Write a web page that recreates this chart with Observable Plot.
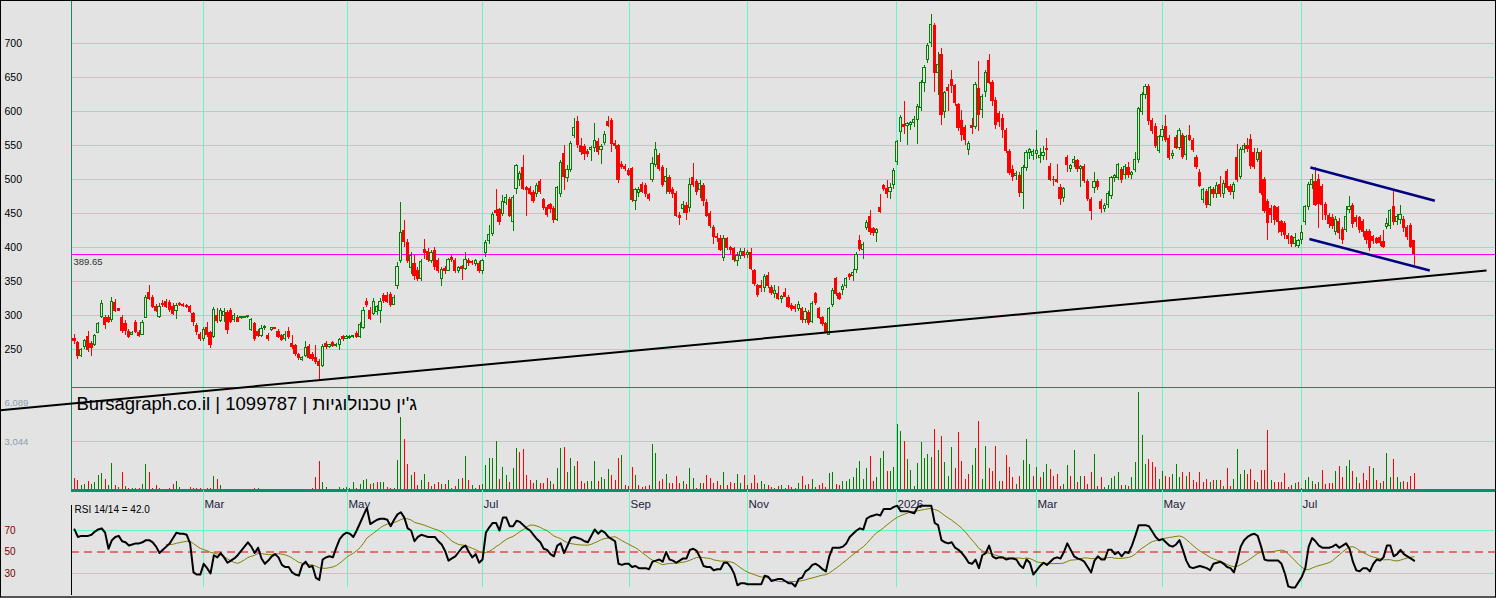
<!DOCTYPE html>
<html><head><meta charset="utf-8">
<script src="https://cdn.jsdelivr.net/npm/d3@7"></script>
<script src="https://cdn.jsdelivr.net/npm/@observablehq/plot@0.6"></script>
<style>
html,body{margin:0;padding:0;background:#e3e3e3;}
#chart{position:relative;width:1496px;height:598px;background:#e3e3e3;overflow:hidden;}
#chart svg{position:absolute;left:0;}
#frame{position:absolute;left:0;top:0;width:1496px;height:598px;box-sizing:border-box;border:1px solid #000;border-bottom:2px solid #555;pointer-events:none;z-index:10;}
</style></head><body><div id="chart"><div id="frame"></div></div>
<script>
const title = "Bursagraph.co.il | 1099787 | ג'ין טכנולוגיות";
const lastPrice = 389.65;
const priceTicks = [250,300,350,400,450,500,550,600,650,700];
const volTicks = [3044, 6089];
const rsiLevels = [70, 50, 30];
const monthLabels = ["Mar","May","Jul","Sep","Nov","2026","Mar","May","Jul"];
const monthPos = [37.9412, 80.2942, 120, 163.2353, 197.9412, 241.7648, 282.9412, 320, 360.8824];

const open = [266,260,241,253,268,258,256,275,298,296,297,294,318,309,296,287,276,272,289,274,272,297,333,326,312,298,317,320,318,313,306,317,316,314,312,302,285,272,
266,282,274,268,300,292,300,303,306,293,297,296,297,298,278,288,276,270,281,270,278,281,276,270,265,276,258,255,242,235,240,254,242,238,232,226,258,254,260,255,256,268,266,
267,268,273,268,282,320,306,302,305,306,328,328,330,316,343,380,424,406,370,376,366,354,396,394,380,395,380,353,368,366,384,380,366,371,369,380,378,376,376,365,
392,410,420,454,455,450,466,470,438,486,500,517,488,486,480,478,496,470,458,462,456,441,478,538,502,514,564,585,549,548,540,544,546,555,544,554,584,586,552,549,522,518,512,
516,468,480,492,490,477,500,522,534,517,497,502,484,479,447,456,461,458,502,496,485,490,466,450,429,416,413,384,412,400,398,380,388,394,
389,392,365,343,344,340,358,340,332,332,324,333,326,314,312,309,309,294,304,290,331,310,296,287,272,316,353,331,338,344,360,358,367,410,397,429,445,427,422,458,490,486,481,492,
526,570,580,578,580,583,588,605,642,675,700,726,657,683,599,634,647,637,609,586,576,543,578,577,633,602,629,674,642,615,596,589,571,541,514,505,505,480,517,539,534,538,
532,535,545,519,500,500,488,473,532,516,524,527,516,519,497,470,487,497,467,456,462,476,502,502,514,507,517,506,514,529,599,624,636,586,577,542,562,
577,560,535,561,547,564,536,564,557,532,510,470,481,463,485,478,492,479,511,489,482,532,504,544,549,558,539,529,539,500,467,456,459,458,437,435,417,415,405,402,411,
438,459,492,496,499,489,463,446,444,423,438,426,426,455,461,444,443,438,423,423,416,412,414,408,430,431,459,438,440,441,429,432,409];
const high = [272,262,252,265,276,262,272,290,322,300,300,326,324,311,300,292,279,276,292,278,292,330,344,330,316,318,322,324,322,318,318,319,318,316,314,304,288,275,
282,290,277,312,310,310,310,308,310,303,300,299,299,300,296,290,280,285,285,274,283,283,280,272,276,282,270,258,244,240,262,258,246,256,235,258,262,258,262,259,266,270,270,
270,271,276,290,312,325,312,325,315,325,332,334,334,330,378,466,440,412,392,388,370,382,412,398,396,400,384,370,372,384,388,384,372,373,392,384,381,382,380,383,
410,433,452,485,458,476,478,474,476,522,512,535,490,490,484,494,500,472,462,465,460,490,528,550,520,556,590,592,560,552,544,548,582,560,552,570,593,590,558,552,526,522,516,
518,487,488,496,494,480,532,555,538,520,516,506,488,483,452,468,466,502,523,500,498,494,470,453,432,420,418,418,414,402,400,392,398,398,
396,398,368,346,352,360,363,344,344,342,330,340,330,318,316,320,312,310,308,320,334,312,298,290,312,340,356,334,346,356,362,368,392,418,408,440,455,430,428,478,493,498,494,516,
558,594,615,584,586,592,610,645,668,700,743,729,687,692,630,640,661,640,612,602,580,556,590,642,673,625,660,684,645,620,600,595,575,544,520,512,510,520,542,546,544,572,
545,548,560,524,505,522,492,488,536,522,534,530,520,522,500,473,510,500,470,464,482,505,508,524,518,522,525,512,540,606,628,640,640,590,582,565,580,
594,564,542,565,575,568,565,580,560,536,514,487,485,490,488,496,505,498,515,492,496,551,547,553,560,566,545,545,543,503,470,462,462,460,440,438,420,418,420,412,432,
462,496,508,517,508,493,466,450,448,446,442,430,460,475,464,447,446,441,426,426,418,415,418,425,442,456,485,448,462,445,432,436,411];
const low = [258,236,238,250,245,240,255,273,296,280,288,290,304,306,273,270,266,270,274,268,270,295,322,310,305,295,312,311,305,300,294,313,312,310,303,284,270,262,
262,268,252,266,288,290,290,272,288,290,289,294,295,296,276,262,268,268,278,262,276,279,266,262,262,265,250,240,234,232,238,235,232,228,206,224,250,252,253,253,248,262,264,
265,266,266,266,280,312,292,300,300,288,318,318,312,314,338,376,400,376,360,352,350,350,382,378,376,366,362,342,360,364,378,362,362,351,366,372,374,372,362,360,
385,405,416,446,432,446,462,444,424,478,490,484,445,476,464,474,478,454,444,450,436,438,474,484,496,510,560,546,536,528,532,526,540,536,522,550,576,540,544,494,515,512,504,
466,454,474,480,474,468,496,518,512,488,478,478,472,444,432,450,440,452,488,476,472,460,444,428,404,408,394,380,396,390,378,372,382,384,
384,366,342,326,334,334,340,330,325,322,318,326,310,306,304,306,288,288,285,288,314,294,284,274,270,312,328,322,330,340,352,350,362,394,382,425,418,416,408,450,483,472,470,486,
520,554,566,550,572,576,551,600,628,670,694,628,624,580,590,600,626,608,570,556,550,536,566,574,570,590,620,640,608,573,576,560,538,506,497,498,474,456,512,530,528,530,
524,528,528,497,490,494,462,466,510,510,518,510,488,494,468,440,480,484,450,452,458,470,496,498,494,500,502,500,510,524,594,618,580,566,546,538,556,
554,528,530,544,542,530,528,556,540,514,488,464,458,460,472,472,474,472,484,476,470,496,500,538,540,515,515,525,476,450,410,436,432,420,416,412,404,400,400,398,404,
432,454,486,460,428,440,440,428,426,418,412,404,422,450,428,430,420,414,405,394,405,404,402,398,426,426,432,432,434,422,410,398,374];
const close = [263,240,250,262,249,252,270,288,317,286,290,320,306,307,277,277,268,275,276,270,289,326,324,312,307,313,315,313,308,302,314,315,314,312,305,290,276,265,
279,272,256,308,292,307,305,278,291,300,291,298,298,299,294,266,270,280,283,266,281,280,269,264,272,268,254,243,237,238,252,238,236,231,226,254,254,257,255,257,264,266,268,
269,270,268,286,306,315,295,320,312,320,321,320,316,326,372,422,408,380,388,358,354,378,392,382,392,372,366,367,365,381,381,365,370,369,381,377,377,380,365,380,
406,418,448,451,437,467,473,447,473,520,508,486,484,479,469,491,481,458,448,456,440,488,524,504,514,552,576,550,540,537,538,546,557,540,548,566,578,552,549,500,519,515,507,
470,485,484,482,478,472,523,544,516,492,504,482,478,447,444,462,451,492,492,482,494,469,447,432,416,414,397,412,400,397,382,387,393,388,
392,368,346,330,340,357,343,333,336,324,327,327,313,309,309,316,294,305,289,317,318,297,287,276,310,336,331,325,342,353,357,362,389,398,404,436,423,421,426,452,486,478,488,513,
555,590,577,581,583,588,607,642,664,697,727,657,668,595,627,630,637,612,576,565,558,552,576,639,595,621,656,642,615,580,585,573,542,510,503,508,480,517,539,543,540,542,
535,539,543,500,499,496,472,486,521,520,528,516,519,498,472,454,496,489,456,461,479,502,505,521,500,519,507,509,529,603,624,636,586,571,549,562,573,
558,532,538,547,571,533,562,558,544,519,491,484,462,487,479,491,479,494,488,482,492,500,544,549,545,520,519,539,480,454,436,448,440,437,423,419,413,405,414,410,422,
459,492,500,463,464,463,448,434,432,441,422,411,445,460,434,438,426,423,411,400,410,407,407,401,434,453,437,445,448,429,416,401,390];
const volume = [770,630,310,380,570,380,500,940,1070,690,310,1700,330,190,1130,250,130,130,130,130,
380,1630,1130,130,310,130,60,60,130,380,570,190,60,60,190,130,100,100,60,130,
130,880,690,310,60,60,80,60,50,60,30,20,30,130,130,40,60,30,20,20,
20,60,30,20,30,80,20,20,20,60,130,820,1820,500,190,30,20,40,190,130,
190,130,500,100,380,630,690,380,440,480,500,500,160,130,130,1880,4520,3140,1630,940,
1130,310,630,1000,500,250,380,500,380,380,650,130,250,670,770,2130,620,310,130,310,
360,1570,1960,1960,3044,690,1440,940,500,1380,2640,2380,2570,940,630,440,630,440,460,770,
560,400,1380,2640,2700,1090,2010,1510,1820,560,460,560,560,1820,560,820,690,1320,940,600,
1960,2200,300,250,1440,940,300,190,250,300,2830,2330,560,670,1000,460,460,880,460,560,
400,1380,730,150,420,420,940,770,460,560,310,1130,310,500,460,1000,420,940,300,460,
940,420,560,360,300,190,150,220,300,150,310,190,150,460,850,300,400,670,190,300,
420,190,1070,1090,360,310,560,560,690,820,1340,1820,690,1380,2140,560,820,2010,2430,1200,
1200,1430,4100,3680,3060,1920,1230,250,1660,2970,2000,2240,2050,3800,2510,3330,1710,840,2660,1340,
3600,1780,670,980,1530,2620,4310,670,2760,1340,1200,2720,590,590,2160,1460,800,360,900,1840,
3190,1630,900,1420,800,1090,1630,1300,840,980,250,360,1570,840,2460,520,840,880,360,1090,
2260,270,780,200,290,760,890,1100,340,320,270,835,1720,6089,3440,1645,1900,1750,1435,655,
1200,885,815,1025,1645,790,1100,890,1100,620,480,1100,480,690,520,620,620,620,270,1370,
270,690,2560,1000,1240,970,1310,620,520,1240,1240,3700,640,520,520,480,1040,160,330,410,
480,140,620,830,580,370,480,1240,370,410,410,1170,1520,830,1520,1870,1170,830,410,1040,
620,1520,1370,620,410,580,2320,790,1930,790,500,580,480,890,1040];
const rsi = [71,64,65,65,65,66,69,71,72,68,53,61,64,65,60,59,56,57,58,58,
59,61,61,59,55,49,52,55,58,63,68,67,67,66,58,31,29,29,39,35,
30,47,45,49,45,40,42,44,47,51,55,59,55,49,54,44,39,42,46,48,
45,38,36,36,31,29,28,38,41,36,37,26,24,43,45,46,45,54,62,66,
68,67,64,70,77,84,91,76,78,80,81,81,80,74,80,85,87,82,72,70,
60,64,66,65,64,64,64,60,57,51,42,44,46,50,54,56,50,45,48,40,
43,68,73,77,77,70,82,82,74,74,79,78,75,72,70,66,62,59,53,52,
48,46,56,58,49,56,63,64,63,62,60,59,65,71,67,70,68,64,62,60,
39,38,39,39,36,37,35,35,35,34,41,42,43,41,50,43,42,40,42,44,
44,52,53,51,45,37,36,36,33,34,34,40,40,36,30,19,21,21,20,20,
20,20,20,28,27,23,24,25,25,23,21,21,18,25,26,32,34,38,39,37,
34,32,46,54,54,54,55,58,64,67,70,72,71,81,83,84,85,84,90,90,
90,92,93,88,88,88,87,86,92,93,93,93,93,77,75,61,59,58,59,54,
52,49,45,40,39,43,35,47,49,56,46,44,45,45,43,44,44,43,38,35,
43,40,29,33,37,40,38,41,44,45,44,50,58,52,46,44,43,41,36,31,
42,46,43,43,52,52,48,50,46,50,49,56,65,75,75,75,74,69,64,61,
62,59,56,55,57,61,52,42,36,35,36,37,36,35,33,39,40,41,39,36,
35,31,42,55,61,64,66,67,65,55,43,42,42,42,42,39,30,18,17,17,
22,27,35,55,63,60,56,54,54,54,55,57,54,56,58,53,41,33,32,35,
35,32,39,43,42,45,56,56,46,48,52,48,46,44,42];
// user-drawn lines, in (candle index, price)
const supportLine = [{x1: -21.8, y1: 160.8, x2: 415.3, y2: 366.1}];
const channelLines = [{x1: 363.5, y1: 517.6, x2: 400.1, y2: 468.8}, {x1: 363.2, y1: 412.6, x2: 398.6, y2: 366.1}];

const rows = d3.range(close.length).map(i => ({
  i, o: open[i], h: high[i], l: low[i], c: close[i], v: volume[i], r: rsi[i],
  up: close[i] >= open[i],
  vup: close[i] >= (i ? close[i - 1] : open[i])
}));

const W = 1496, ML = 71, MR = 1;
const STEP = 3.4; // px per trading day
const xDomain = [-3 / STEP, (W - MR - 74) / STEP];
const GRID = "#66f5c4", GREEN = "#008000", RED = "#ff0000", BG = "#e3e3e3", AXG = "#1e8a5a";
const FONT = "'Liberation Sans', Arial, sans-serif";
const CE = "crispEdges";
const baseStyle = {background: "transparent", overflow: "visible", fontFamily: FONT};
const priceDomain = [194.118, 763.235];

const mainPlot = Plot.plot({
  width: W, height: 387, marginLeft: ML, marginRight: MR, marginTop: 0, marginBottom: 0,
  x: {domain: xDomain, axis: null},
  y: {domain: priceDomain, axis: null},
  color: {type: "identity"},
  style: baseStyle,
  marks: [
    Plot.gridY(priceTicks, {stroke: GRID, strokeOpacity: 1}),
    Plot.gridX(monthPos, {stroke: GRID, strokeOpacity: 1}),
    Plot.ruleX([xDomain[0]], {stroke: AXG, shapeRendering: CE}),
    Plot.ruleY([priceDomain[0]], {stroke: AXG, shapeRendering: CE}),
    Plot.ruleY([lastPrice], {stroke: "#ff00ff", shapeRendering: CE}),
    Plot.ruleX(rows, {x: "i", y1: "l", y2: "h", stroke: d => d.up ? GREEN : RED, strokeWidth: 1, shapeRendering: CE}),
    Plot.rect(rows.filter(d => !d.up), {x1: d => d.i - 0.3, x2: d => d.i + 0.3, y1: "o", y2: "c", fill: RED, stroke: RED, strokeWidth: 1, shapeRendering: CE}),
    Plot.rect(rows.filter(d => d.up), {x1: d => d.i - 0.3, x2: d => d.i + 0.3, y1: "o", y2: "c", fill: BG, stroke: GREEN, strokeWidth: 1, shapeRendering: CE}),
    Plot.link(supportLine, {x1: "x1", y1: "y1", x2: "x2", y2: "y2", stroke: "#000", strokeWidth: 2}),
    Plot.link(channelLines, {x1: "x1", y1: "y1", x2: "x2", y2: "y2", stroke: "#000080", strokeWidth: 2.5}),
    Plot.text(priceTicks, {y: d => d, text: d => String(d), frameAnchor: "left", dx: -67, textAnchor: "start", fontSize: 10.5, fill: "#000"}),
    Plot.text([lastPrice], {y: d => d, text: d => d.toFixed(2), frameAnchor: "left", dx: 2, dy: 7, textAnchor: "start", fontSize: 9.5, fill: "#333"})
  ]
});

const volPlot = Plot.plot({
  width: W, height: 103, marginLeft: ML, marginRight: MR, marginTop: 0, marginBottom: 0,
  x: {domain: xDomain, axis: null},
  y: {domain: [0, 6400], axis: null},
  color: {type: "identity"},
  style: baseStyle,
  marks: [
    Plot.gridY([volTicks[0]], {stroke: GRID, strokeOpacity: 1}),
    Plot.gridX(monthPos, {stroke: GRID, strokeOpacity: 1}),
    Plot.ruleX([xDomain[0]], {stroke: AXG, shapeRendering: CE}),
    Plot.ruleX(rows, {x: "i", y1: 0, y2: "v", stroke: d => d.vup ? GREEN : RED, strokeWidth: 1, shapeRendering: CE}),
    Plot.ruleY([0], {stroke: "#00936a", strokeWidth: 3, shapeRendering: CE}),
    Plot.text([volTicks[0]], {y: d => d, text: d => d3.format(",")(d), frameAnchor: "left", dx: -67, textAnchor: "start", fontSize: 9.5, fill: "#8c9bb0"}),
    Plot.text([volTicks[1]], {y: d => d, text: d => d3.format(",")(d), frameAnchor: "left", dx: -67, dy: 10, textAnchor: "start", fontSize: 9.5, fill: "#8c9bb0"}),
    Plot.text([title], {frameAnchor: "top-left", dx: 5, dy: 17, textAnchor: "start", lineAnchor: "middle", fontSize: 18.5, fill: "#000"})
  ]
});

const rsiPlot = Plot.plot({
  width: W, height: 108, marginLeft: ML, marginRight: MR, marginTop: 15, marginBottom: 3,
  x: {domain: xDomain, axis: null},
  y: {domain: [9.535, 93.256], axis: null},
  style: baseStyle,
  marks: [
    Plot.ruleX(monthPos, {stroke: GRID, insetTop: -15, insetBottom: 8}),
    Plot.ruleY([30, 70], {stroke: GRID}),
    Plot.ruleY([50], {stroke: "#e00000", strokeDasharray: "8,5"}),
    Plot.ruleX([xDomain[0]], {stroke: "#000", shapeRendering: CE}),
    Plot.line(rows, Plot.windowY({k: 14, anchor: "end"}, {x: d => d.i >= 27 ? d.i : NaN, y: "r", stroke: "#808000", strokeWidth: 1})),
    Plot.line(rows, {x: "i", y: "r", stroke: "#000", strokeWidth: 2}),
    Plot.text(monthLabels, {x: (d, i) => monthPos[i], text: d => d, frameAnchor: "top", dy: -6, dx: 1, textAnchor: "start", fontSize: 11.5, fill: "#1c1c3c"}),
    Plot.text(rsiLevels, {y: d => d, text: d => String(d), frameAnchor: "left", dx: -67, textAnchor: "start", fontSize: 10, fill: "#800000"}),
    Plot.text([rsi[rsi.length - 1]], {text: d => `RSI 14/14 = ${d.toFixed(1)}`, frameAnchor: "top-left", dx: 3, dy: 4.5, textAnchor: "start", lineAnchor: "middle", fontSize: 10, fill: "#000"})
  ]
});

const chart = document.getElementById("chart");
[[volPlot, 387, 1], [rsiPlot, 490, 2], [mainPlot, 0, 3]].forEach(([svg, top, z]) => {
  svg.style.top = top + "px";
  svg.style.zIndex = z;
  chart.appendChild(svg);
});
</script>
</body></html>
